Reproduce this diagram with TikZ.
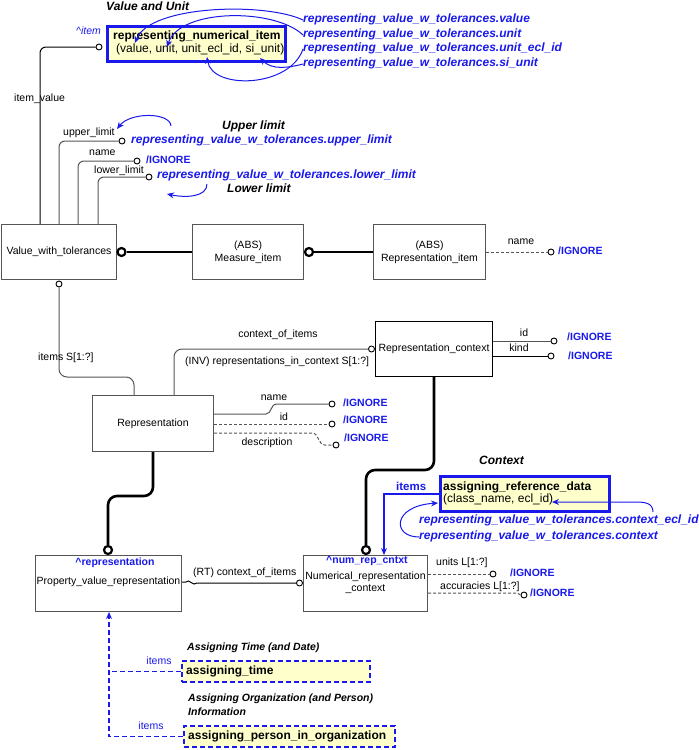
\documentclass[tikz,border=0pt]{standalone}
\usepackage{fontspec}
\setmainfont{Liberation Sans}
\usetikzlibrary{arrows.meta}
\definecolor{ublue}{RGB}{25,25,235}
\definecolor{uyellow}{RGB}{255,255,204}
\definecolor{ugray}{RGB}{85,85,85}
\tikzset{
  fnn/.style={font=\fontsize{10.5}{13}\selectfont},
  lbn/.style={fnn, inner sep=0pt, text height=7.6pt, text depth=2.4pt},
  lbl/.style={font=\fontsize{12}{14}\selectfont, inner sep=0pt, text height=8.7pt, text depth=2.8pt},
  bbi/.style={lbl, text=ublue, font=\fontsize{12}{14}\selectfont\bfseries\itshape},
  ign/.style={lbn, text=ublue, font=\fontsize{10.5}{13}\selectfont\bfseries},
  hdr/.style={lbl, font=\fontsize{12}{14}\selectfont\bfseries\itshape},
  cls/.style={draw=ugray, line width=1pt, fill=white, inner sep=0pt, fnn, align=center},
  ybox/.style={draw=ublue, line width=3pt, fill=uyellow, inner sep=0pt},
  dbox/.style={draw=ublue, line width=2pt, dash pattern=on 5pt off 3pt, fill=uyellow, inner sep=0pt},
  ln/.style={draw=ugray, line width=1pt},
  dln/.style={ln, dash pattern=on 3pt off 2pt},
  thk/.style={draw=black, line width=2.6pt},
  oc/.style={circle, draw=black, line width=0.9pt, fill=white, inner sep=0pt, minimum size=6pt},
  tc/.style={circle, draw=black, line width=2.2pt, fill=white, inner sep=0pt, minimum size=8pt},
  barrow/.style={draw=ublue, line width=1pt, -{Stealth[length=7pt,width=6pt]}},
}
\begin{document}
\begin{tikzpicture}[x=1pt,y=-1pt]
\useasboundingbox (0,0) rectangle (699,750);

% ---------- boxes ----------
\node[cls, minimum width=115pt, minimum height=55pt] (vwt) at (59,252) {Value\_with\_tolerances};
\node[cls, minimum width=111pt, minimum height=55pt] (mi) at (248,252) {(ABS)\\Measure\_item};
\node[cls, minimum width=112pt, minimum height=55pt] (ri) at (429.5,252) {(ABS)\\Representation\_item};
\node[cls, minimum width=121pt, minimum height=56pt] (rep) at (153,423.5) {Representation};
\node[cls, draw=black, minimum width=117pt, minimum height=55pt] (rc) at (434,349) {Representation\_context};
\node[cls, minimum width=146pt, minimum height=56pt] (pvr) at (108.5,583.5) {};
\node[cls, minimum width=124pt, minimum height=56pt] (nrc) at (365.5,583.5) {};

\node[ign] (pvrS) at (115,563) {\textasciicircum representation};
\node[lbn] (pvrN) at (108.5,582) {Property\_value\_representation};
\node[ign, anchor=west] (nrcS) at (326,561) {\textasciicircum num\_rep\_cntxt};
\node[lbn] (nrcN1) at (365.5,577) {Numerical\_representation};
\node[lbn] (nrcN2) at (365.5,589) {\_context};

\node[ybox, minimum width=178pt, minimum height=35pt] (rni) at (196.5,44) {};
\node[lbl, anchor=west, font=\fontsize{12}{14}\selectfont\bfseries] (rniT) at (113,37) {representing\_numerical\_item};
\node[lbl, anchor=west] (rniA) at (116,50) {(value, unit, unit\_ecl\_id, si\_unit)};

\node[ybox, minimum width=169pt, minimum height=35pt] (ard) at (525,494) {};
\node[lbl, anchor=west, font=\fontsize{12}{14}\selectfont\bfseries] (ardT) at (443,488) {assigning\_reference\_data};
\node[lbl, anchor=west] (ardA) at (443,500) {(class\_name, ecl\_id)};

\node[dbox, minimum width=188pt, minimum height=21pt] (at) at (276,671.5) {};
\node[lbl, anchor=west, font=\fontsize{12}{14}\selectfont\bfseries] (atT) at (186,672) {assigning\_time};
\node[dbox, minimum width=211pt, minimum height=21pt] (apo) at (289.5,736.5) {};
\node[lbl, anchor=west, font=\fontsize{12}{14}\selectfont\bfseries] (apoT) at (188,737) {assigning\_person\_in\_organization};

% ---------- headings ----------
\node[hdr, anchor=west] (hVU) at (106,8) {Value and Unit};
\node[hdr, anchor=west] (hUL) at (222,127) {Upper limit};
\node[hdr, anchor=west] (hLL) at (227,190) {Lower limit};
\node[hdr, anchor=west] (hCX) at (479,462) {Context};
\node[lbn, anchor=west, font=\fontsize{10.5}{13}\selectfont\bfseries\itshape] (hAT) at (187,648) {Assigning Time (and Date)};
\node[lbn, anchor=west, font=\fontsize{10.5}{13}\selectfont\bfseries\itshape] (hAO1) at (188,699) {Assigning Organization (and Person)};
\node[lbn, anchor=west, font=\fontsize{10.5}{13}\selectfont\bfseries\itshape] (hAO2) at (188,713) {Information};

% ---------- circles ----------
\node[oc] (cItem) at (99,47) {};
\node[oc] (cUp) at (122,141) {};
\node[oc] (cNm) at (137,161) {};
\node[oc] (cLo) at (149,177) {};
\node[tc] (cV) at (121.5,252) {};
\node[tc] (cM) at (309,252) {};
\node[oc] (cRI) at (551,252) {};
\node[oc] (cIt) at (59,284) {};
\node[oc] (cCI) at (371.5,349) {};
\node[oc] (cRCid) at (554,341) {};
\node[oc] (cRCk) at (551,356) {};
\node[oc] (cRn) at (332,404) {};
\node[oc] (cRid) at (332,424) {};
\node[oc] (cRd) at (336,445) {};
\node[tc] (cP) at (108,550) {};
\node[tc] (cN) at (366,550) {};
\node[oc] (cRT) at (299.5,583) {};
\node[oc] (cU) at (493,574) {};
\node[oc] (cA) at (524,595) {};

% ---------- connectors ----------
\draw[line width=1pt, rounded corners=6] (cItem.west) -- (40,47) -- (40,0 |- vwt.north);
\draw[ln, rounded corners=6] (59,0 |- vwt.north) -- (59,141) -- (cUp.west);
\draw[ln, rounded corners=6] (78,0 |- vwt.north) -- (78,161) -- (cNm.west);
\draw[ln, rounded corners=6] (98,0 |- vwt.north) -- (98,177) -- (cLo.west);
\draw[thk] (cV.east) -- (mi.west);
\draw[thk] (cM.east) -- (ri.west);
\draw[dln] (ri.east) -- (cRI.west);
\draw[ln, rounded corners=8] (cIt.south) -- (59,377) -- (134,377) -- (134,0 |- rep.north);
\draw[ln, rounded corners=8] (174,0 |- rep.north) -- (174,349) -- (cCI.west);
\draw[ln] (rc.east |- 0,341) -- (cRCid.west);
\draw[line width=1pt] (rc.east |- 0,356) -- (cRCk.west);
\draw[ln] (rep.east |- 0,414) -- (266,414) .. controls (272,414) and (270,404) .. (277,404) -- (cRn.west);
\draw[dln] (rep.east |- 0,424) -- (cRid.west);
\draw[dln] (rep.east |- 0,433) -- (312,433) .. controls (319,433) and (318,445) .. (325,445) -- (cRd.west);
\draw[thk, rounded corners=9] (rep.south) -- (153,496) -- (108,496) -- (cP.north);
\draw[thk, rounded corners=9] (rc.south) -- (434,470) -- (366,470) -- (cN.north);
\draw[line width=1pt] (pvr.east |- 0,582) -- (186,582) .. controls (189,578) and (193,587) .. (197,583) -- (cRT.west);
\draw[dln] (nrc.east |- 0,574) -- (cU.west);
\draw[dln] (nrc.east |- 0,593) -- (517,593) -- (cA.west);

% blue arrows
\draw[barrow, line width=1.3pt] (ard.west) -| (384,0 |- nrc.north);
\draw[barrow, line width=1.8pt, dash pattern=on 5pt off 3pt] (apo.west) -| (109,0 |- pvr.south);
\draw[draw=ublue, line width=1.8pt, dash pattern=on 5pt off 3pt] (at.west) -- (109,0 |- at.west);

% ---------- labels ----------
\node[lbn, anchor=west] (lIV) at (14,99) {item\_value};
\node[lbn, anchor=west] (lUL) at (63,133) {upper\_limit};
\node[lbn, anchor=west] (lNm) at (89,153) {name};
\node[lbn, anchor=west] (lLL) at (94,171) {lower\_limit};
\node[lbn, anchor=west] (lIS) at (38,358) {items S[1:?]};
\node[lbn] (lCI) at (278,335) {context\_of\_items};
\node[lbn, anchor=west] (lINV) at (185,362) {(INV) representations\_in\_context S[1:?]};
\node[lbn] (lRIn) at (521,242) {name};
\node[lbn] (lRn) at (274,398) {name};
\node[lbn] (lRid) at (284,418) {id};
\node[lbn] (lRd) at (267,443) {description};
\node[lbn] (lRCid) at (524,334) {id};
\node[lbn] (lRCk) at (519,349) {kind};
\node[lbn, anchor=west] (lRT) at (193,573) {(RT) context\_of\_items};
\node[lbn, anchor=west] (lU) at (436,563) {units L[1:?]};
\node[lbn, anchor=west] (lA) at (440,587) {accuracies L[1:?]};

\node[lbn, anchor=west, text=ublue, font=\fontsize{10.5}{13}\selectfont\itshape] (lItem) at (76,32) {\textasciicircum item};
\node[lbn, anchor=west, text=ublue, font=\fontsize{11.5}{13}\selectfont\bfseries] (lItems) at (396,488) {items};
\node[lbn, text=ublue] (lIt1) at (159,662) {items};
\node[lbn, text=ublue] (lIt2) at (151,727) {items};

\node[ign, anchor=west] (i1) at (146,161) {/IGNORE};
\node[ign, anchor=west] (i2) at (558,252) {/IGNORE};
\node[ign, anchor=west] (i3) at (567,338) {/IGNORE};
\node[ign, anchor=west] (i4) at (568,357) {/IGNORE};
\node[ign, anchor=west] (i5) at (343,404) {/IGNORE};
\node[ign, anchor=west] (i6) at (343,421) {/IGNORE};
\node[ign, anchor=west] (i7) at (344,439) {/IGNORE};
\node[ign, anchor=west] (i8) at (510,574) {/IGNORE};
\node[ign, anchor=west] (i9) at (530,594) {/IGNORE};

\node[bbi, anchor=west] (rv1) at (303,20) {representing\_value\_w\_tolerances.value};
\node[bbi, anchor=west] (rv2) at (303,35) {representing\_value\_w\_tolerances.unit};
\node[bbi, anchor=west] (rv3) at (303,49) {representing\_value\_w\_tolerances.unit\_ecl\_id};
\node[bbi, anchor=west] (rv4) at (303,64) {representing\_value\_w\_tolerances.si\_unit};
\node[bbi, anchor=west] (rv5) at (131,141) {representing\_value\_w\_tolerances.upper\_limit};
\node[bbi, anchor=west] (rv6) at (157,176) {representing\_value\_w\_tolerances.lower\_limit};
\node[bbi, anchor=west] (rv7) at (419,521) {representing\_value\_w\_tolerances.context\_ecl\_id};
\node[bbi, anchor=west] (rv8) at (419,537) {representing\_value\_w\_tolerances.context};

% blue mapping arrows
\coordinate (aVal) at (135,43);
\coordinate (aUnit) at (167,47);
\coordinate (aEcl) at (207,57);
\coordinate (aSi) at (260,58);
\draw[barrow] (rv1.west) .. controls (265,2) and (150,5) .. (aVal);
\draw[barrow] (rv2.west) .. controls (275,8) and (180,8) .. (aUnit);
\draw[barrow] (rv3.west) .. controls (290,88) and (212,90) .. (aEcl);
\draw[barrow] (rv4.west) .. controls (288,68) and (272,70) .. (aSi);
\coordinate (aUL) at (117,129);
\coordinate (aLL) at (167,194);
\draw[barrow] (171,126) .. controls (170,112) and (130,112) .. (aUL);
\draw[barrow] (207,184) .. controls (207,197) and (186,198) .. (aLL);
\coordinate (aCE) at (552,502);
\coordinate (aCX) at (438,503);
\draw[barrow] (653,512) .. controls (653,503) and (645,502) .. (635,502) -- (aCE);
\draw[barrow] (rv8.west) .. controls (392,537) and (392,506) .. (aCX);

\end{tikzpicture}
\end{document}
